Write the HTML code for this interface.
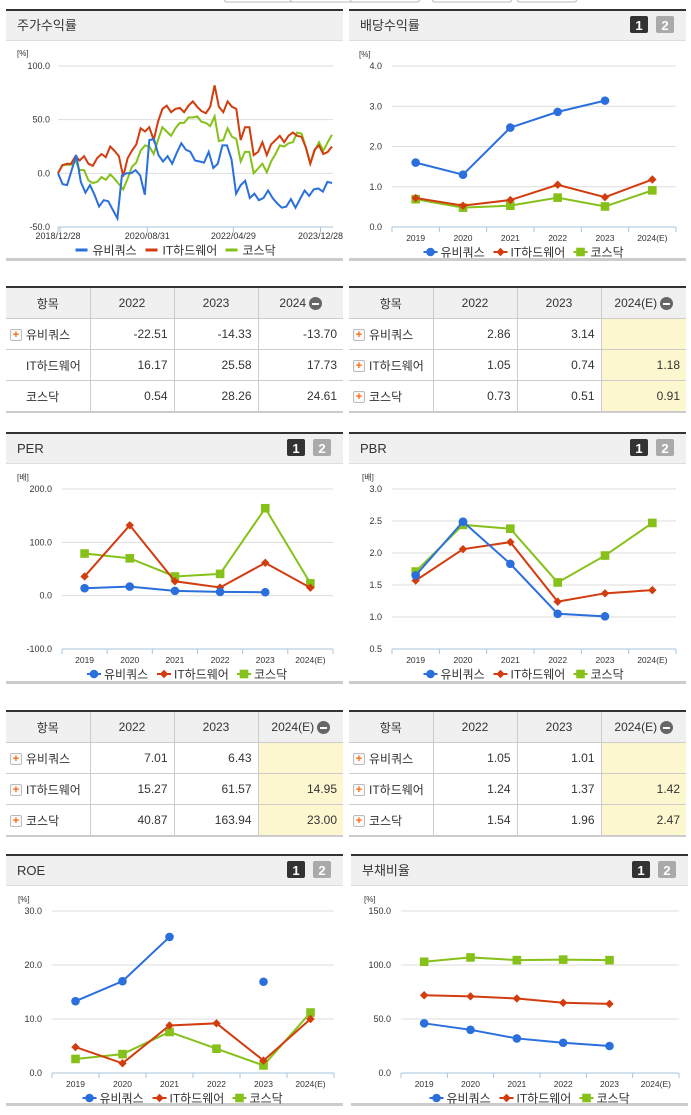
<!DOCTYPE html>
<html><head><meta charset="utf-8">
<style>
body{margin:0;width:691px;height:1115px;background:#fff;position:relative;overflow:hidden;font-family:"Liberation Sans","Noto Sans CJK KR",sans-serif;}
svg{position:absolute;left:0;top:0}
table{position:absolute;border-collapse:collapse;font-size:12px;color:#333;table-layout:fixed;border-top:2px solid #333;border-bottom:2px solid #ccc}
td,th{border:1px solid #ccc;height:30px;padding:0 6px;font-weight:normal}
th{background:#f0f0f0;text-align:center}
td.n{text-align:right}
td.l{text-align:left;padding-left:4px}
tr td:first-child,tr th:first-child{border-left:none}
tr td:last-child,tr th:last-child{border-right:none}
td.y{background:#fdf7cf}
.pl{display:inline-block;width:10px;height:10px;border:1px solid #bbb;border-radius:2px;background:#fafafa;color:#f60;font-size:11px;line-height:10px;text-align:center;font-weight:bold;vertical-align:middle;margin-right:4px}
.sp{display:inline-block;width:12px;margin-right:4px}
.mi{display:inline-block;width:13px;height:13px;border-radius:50%;background:#666;vertical-align:middle;position:relative;margin-left:3px}
.mi:after{content:"";position:absolute;left:3px;top:6px;width:7px;height:2px;background:#fff}
</style></head><body>
<svg id="s" width="691" height="1115"></svg>

<table style="left:6px;top:286px;width:337px">
<colgroup><col style="width:84px"><col style="width:84px"><col style="width:84px"><col style="width:85px"></colgroup>
<tr><th>항목</th><th>2022</th><th>2023</th><th>2024<span class="mi"></span></th></tr>
<tr><td class="l"><span class="pl">+</span>유비쿼스</td><td class="n">-22.51</td><td class="n">-14.33</td><td class="n">-13.70</td></tr>
<tr><td class="l"><span class="sp"></span>IT하드웨어</td><td class="n">16.17</td><td class="n">25.58</td><td class="n">17.73</td></tr>
<tr><td class="l"><span class="sp"></span>코스닥</td><td class="n">0.54</td><td class="n">28.26</td><td class="n">24.61</td></tr>
</table>
<table style="left:349px;top:286px;width:337px">
<colgroup><col style="width:84px"><col style="width:84px"><col style="width:84px"><col style="width:85px"></colgroup>
<tr><th>항목</th><th>2022</th><th>2023</th><th>2024(E)<span class="mi"></span></th></tr>
<tr><td class="l"><span class="pl">+</span>유비쿼스</td><td class="n">2.86</td><td class="n">3.14</td><td class="n y"></td></tr>
<tr><td class="l"><span class="pl">+</span>IT하드웨어</td><td class="n">1.05</td><td class="n">0.74</td><td class="n y">1.18</td></tr>
<tr><td class="l"><span class="pl">+</span>코스닥</td><td class="n">0.73</td><td class="n">0.51</td><td class="n y">0.91</td></tr>
</table>
<table style="left:6px;top:710px;width:337px">
<colgroup><col style="width:84px"><col style="width:84px"><col style="width:84px"><col style="width:85px"></colgroup>
<tr><th>항목</th><th>2022</th><th>2023</th><th>2024(E)<span class="mi"></span></th></tr>
<tr><td class="l"><span class="pl">+</span>유비쿼스</td><td class="n">7.01</td><td class="n">6.43</td><td class="n y"></td></tr>
<tr><td class="l"><span class="pl">+</span>IT하드웨어</td><td class="n">15.27</td><td class="n">61.57</td><td class="n y">14.95</td></tr>
<tr><td class="l"><span class="pl">+</span>코스닥</td><td class="n">40.87</td><td class="n">163.94</td><td class="n y">23.00</td></tr>
</table>
<table style="left:349px;top:710px;width:337px">
<colgroup><col style="width:84px"><col style="width:84px"><col style="width:84px"><col style="width:85px"></colgroup>
<tr><th>항목</th><th>2022</th><th>2023</th><th>2024(E)<span class="mi"></span></th></tr>
<tr><td class="l"><span class="pl">+</span>유비쿼스</td><td class="n">1.05</td><td class="n">1.01</td><td class="n y"></td></tr>
<tr><td class="l"><span class="pl">+</span>IT하드웨어</td><td class="n">1.24</td><td class="n">1.37</td><td class="n y">1.42</td></tr>
<tr><td class="l"><span class="pl">+</span>코스닥</td><td class="n">1.54</td><td class="n">1.96</td><td class="n y">2.47</td></tr>
</table>

<script>
// ---- data ----
const seriesNames = ['유비쿼스','IT하드웨어','코스닥'];
const cats = ['2019','2020','2021','2022','2023','2024(E)'];
const stockDates = ['2018/12/28','2020/08/31','2022/04/29','2023/12/28'];
const stockBlue = [0,-10,-11,3,17,-8,-18,-11,-20,-31,-25,-26,-34,-42,-2,0,0,3,-2,-20,31,32,17,11,16,9,19,28,22,20,12,11,10,20,5,9,26,26,13,-19,-11,-7,-23,-19,-25,-23,-16,-23,-28,-32,-31,-24,-32,-24,-16,-21,-15,-14,-17,-8,-9];
const stockRed = [0,7.5,9,9,16,12,16,9,7,14,18,15,25,21,16,-3,14,21,27,42,39,43,31,48,60,63,57,60,61,57,63,67,62,58,56,62,82,62,57,67,62,60,31,43,43,17,20,29,17,27,31,35,29,35,38,35,34,24,9,22,26,18,20,25];
const stockGreen = [0,7.5,8,8,12,3,3,-6.5,-9,-8,-3.5,-6,-1,-5,-10,-15,-5,6,10,21,26,25,18,31,43,39,35,42,47,47,52,52,53,48,47,44,53,30,31,42,34,32,11,20,20,0,4.5,9,1,11,18,26,25,28,29,38,37,24,9,21,29,21,29,36];
const divBlue = [1.6,1.3,2.47,2.86,3.14,null];
const divRed = [0.72,0.53,0.67,1.05,0.74,1.18];
const divGreen = [0.69,0.48,0.53,0.73,0.51,0.91];
const perBlue = [14,17,9,7.01,6.43,null];
const perRed = [36,132,27,15.27,61.57,14.95];
const perGreen = [79,70,36,40.87,163.94,23.00];
const pbrBlue = [1.65,2.49,1.83,1.05,1.01,null];
const pbrRed = [1.57,2.06,2.17,1.24,1.37,1.42];
const pbrGreen = [1.71,2.44,2.38,1.54,1.96,2.47];
const roeBlue = [13.3,17.0,25.2,null,16.9,null];
const roeRed = [4.8,1.8,8.8,9.2,2.3,10.0];
const roeGreen = [2.6,3.5,7.6,4.5,1.4,11.2];
const debtBlue = [46,40,32,28,25,null];
const debtRed = [72,71,69,65,64,null];
const debtGreen = [103,107,104.5,105,104.5,null];

const NS='http://www.w3.org/2000/svg';
const S=document.getElementById('s');
const COL=['#2a6fdc','#d23c0e','#86c11a'];
function el(t,a,txt){const e=document.createElementNS(NS,t);for(const k in a)e.setAttribute(k,a[k]);if(txt!=null)e.textContent=txt;S.appendChild(e);return e;}

function panel(x,y,w,title,badges,name){
  let g=el('rect',{x:x,y:y,width:w,height:31,fill:'#f0f0f0'});
  
  el('rect',{x:x,y:y,width:w,height:2,fill:'#333'});
  el('rect',{x:x,y:y+31,width:w,height:1,fill:'#ddd'});
  let t=el('text',{x:x+11,y:y+21,'font-size':13,fill:'#333'},title);
  
  if(badges){
    let b1=el('rect',{x:x+w-56,y:y+7,width:18,height:17,rx:2,fill:'#333'});
    
    el('text',{x:x+w-47,y:y+21,'font-size':13,'font-weight':'bold',fill:'#fff','text-anchor':'middle'},'1');
    let b2=el('rect',{x:x+w-30,y:y+7,width:18,height:17,rx:2,fill:'#aaa'});
    
    el('text',{x:x+w-21,y:y+21,'font-size':13,'font-weight':'bold',fill:'#fff','text-anchor':'middle'},'2');
  }
  el('rect',{x:x,y:y+249,width:w,height:3,fill:'#ccc'});
}
function marker(k,x,y){
  let m;
  if(k===0)m=el('circle',{cx:x,cy:y,r:4.3,fill:COL[0]});
  else if(k===1)m=el('path',{d:`M${x} ${y-4.2}L${x+4.2} ${y}L${x} ${y+4.2}L${x-4.2} ${y}Z`,fill:COL[1]});
  else m=el('rect',{x:x-4.3,y:y-4.3,width:8.6,height:8.6,fill:COL[2]});
  return m;
}
function legend(cx,y,lines){
  const w=[70,80,55];let x=cx-(w[0]+w[1]+w[2])/2;
  for(let k=0;k<3;k++){
    if(lines)el('rect',{x:x,y:y-1.5,width:12,height:3,fill:COL[k]});
    else {el('rect',{x:x,y:y-1,width:14,height:2,fill:COL[k]});marker(k,x+7,y);}
    let t=el('text',{x:x+17,y:y+4.5,'font-size':12,fill:'#333'},seriesNames[k]);
    
    x+=w[k];
  }
}
function catChart(o){
  const {x0,x1,yT,yB,min,max,ticks,unit,data,name}=o;
  const ys=v=>yB-(v-min)/(max-min)*(yB-yT);
  const bw=(x1-x0)/cats.length;const xs=i=>x0+(i+0.5)*bw;
  el('text',{x:x0-45+(o.uo||0),y:yT-9,'font-size':8,fill:'#333'},unit);
  ticks.forEach(t=>{
    if(t!==min){el('line',{x1:x0,x2:x1,y1:ys(t),y2:ys(t),stroke:'#ddd'});}
    let tx=el('text',{x:x0-10,y:ys(t)+3,'font-size':9,fill:'#333','text-anchor':'end'},t.toFixed(1));
    
  });
  el('line',{x1:x0,x2:x1,y1:yB,y2:yB,stroke:'#aac4dc'});
  for(let i=0;i<=cats.length;i++)el('line',{x1:x0+i*bw,x2:x0+i*bw,y1:yB,y2:yB+5,stroke:'#aac4dc'});
  cats.forEach((c,i)=>{let t=el('text',{x:xs(i),y:yB+14,'font-size':8.5,fill:'#333','text-anchor':'middle'},c);
    });
  [2,1,0].forEach(k=>{
    const arr=data[k];let d='',pen=false;
    arr.forEach((v,i)=>{if(v==null){pen=false;return;}d+=(pen?'L':'M')+xs(i)+' '+ys(v);pen=true;});
    let p=el('path',{d:d,fill:'none',stroke:COL[k],'stroke-width':2});
    
    arr.forEach((v,i)=>{if(v==null)return;let m=marker(k,xs(i),ys(v));
      });
  });
  legend((x0+x1)/2-8,yB+25,false);
}

// top-left panel: stock returns
panel(6,9,337,'주가수익률',false,'stock-return');
(function(){
  const x0=58,x1=332,yT=66,yB=227,min=-50,max=100;
  const ys=v=>yB-(v-min)/(max-min)*(yB-yT);
  el('text',{x:17,y:56,'font-size':8,fill:'#333'},'[%]');
  [100,50,0,-50].forEach(t=>{
    if(t!==min)el('line',{x1:x0,x2:x1+1,y1:ys(t),y2:ys(t),stroke:'#ddd'});
    el('text',{x:50,y:ys(t)+3,'font-size':9,fill:'#333','text-anchor':'end'},t.toFixed(1));
  });
  el('line',{x1:x0,x2:x1+1,y1:yB,y2:yB,stroke:'#aac4dc'});
  const lx=[0,0.326,0.64,0.958];
  stockDates.forEach((d,i)=>{const x=x0+lx[i]*(x1-x0);
    el('line',{x1:x,x2:x,y1:yB,y2:yB+5,stroke:'#aac4dc'});
    let t=el('text',{x:x,y:yB+12,'font-size':9,fill:'#333','text-anchor':'middle'},d);
    });
  el('line',{x1:x0+2,x2:x0+2,y1:yB,y2:yB+5,stroke:'#aac4dc'});
  [stockGreen,stockRed,stockBlue].forEach((arr,j)=>{
    const k=2-j;const n=arr.length;
    let d=arr.map((v,i)=>(i?'L':'M')+(x0+i*(x1-x0)/(n-1)).toFixed(1)+' '+ys(v).toFixed(1)).join('');
    let p=el('path',{d:d,fill:'none',stroke:COL[k],'stroke-width':2});
    
  });
  legend(178,250,true);
})();

panel(349,9,337,'배당수익률',true,'dividend');
catChart({x0:392,x1:676,yT:66,yB:227,min:0,max:4,ticks:[4,3,2,1,0],unit:'[%]',data:[divBlue,divRed,divGreen],name:'dividend',uo:12});
panel(6,432,337,'PER',true,'per');
catChart({x0:62,x1:333,yT:489,yB:649,min:-100,max:200,ticks:[200,100,0,-100],unit:'[배]',data:[perBlue,perRed,perGreen],name:'per'});
panel(349,432,337,'PBR',true,'pbr');
catChart({x0:392,x1:676,yT:489,yB:649,min:0.5,max:3,ticks:[3,2.5,2,1.5,1,0.5],unit:'[배]',data:[pbrBlue,pbrRed,pbrGreen],name:'pbr',uo:15});
panel(6,854,337,'ROE',true,'roe');
catChart({x0:52,x1:334,yT:911,yB:1073,min:0,max:30,ticks:[30,20,10,0],unit:'[%]',data:[roeBlue,roeRed,roeGreen],name:'roe',uo:11});
panel(351,854,337,'부채비율',true,'debt-ratio');
catChart({x0:401,x1:679,yT:911,yB:1073,min:0,max:150,ticks:[150,100,50,0],unit:'[%]',data:[debtBlue,debtRed,debtGreen],name:'debt-ratio',uo:8});
// top tab fragments
[[224,70],[290,70],[350,70],[432,80],[517,60]].forEach(b=>{let r=el('rect',{x:b[0],y:-6,width:b[1],height:8,rx:3,fill:'#fff',stroke:'#bbb'});
});
</script>
</body></html>
